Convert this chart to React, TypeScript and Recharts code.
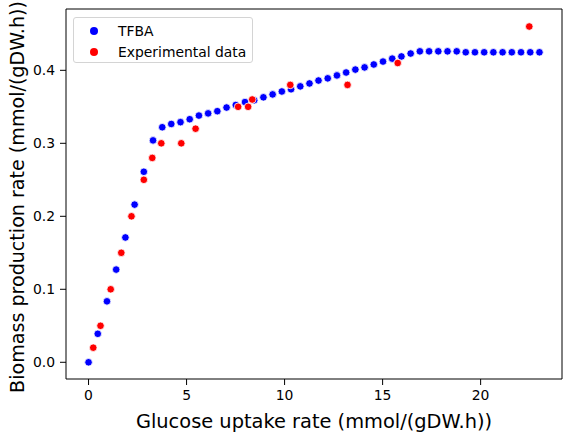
import React from "react";
import { ScatterChart, Scatter, XAxis, YAxis, ReferenceArea } from "recharts";

const tfbaY = [
  0, 0.039, 0.0835, 0.127, 0.171, 0.216, 0.261, 0.304, 0.322, 0.3265,
  0.329, 0.333, 0.338, 0.341, 0.344, 0.349, 0.3525, 0.3565, 0.359, 0.363,
  0.367, 0.371, 0.374, 0.378, 0.382, 0.386, 0.389, 0.393, 0.397, 0.401,
  0.404, 0.408, 0.412, 0.416, 0.419, 0.423, 0.426, 0.426, 0.426, 0.426,
  0.426, 0.4247, 0.4247, 0.4247, 0.4247, 0.4247, 0.4247, 0.4247, 0.4247, 0.4247,
];
const tfbaX = [
  0, 0.47, 0.94, 1.41, 1.88, 2.35, 2.82, 3.29, 3.76, 4.22,
  4.69, 5.16, 5.63, 6.1, 6.57, 7.04, 7.51, 7.98, 8.45, 8.92,
  9.39, 9.86, 10.33, 10.8, 11.27, 11.73, 12.2, 12.67, 13.14, 13.61,
  14.08, 14.55, 15.02, 15.49, 15.96, 16.43, 16.9, 17.37, 17.84, 18.31,
  18.78, 19.24, 19.71, 20.18, 20.65, 21.12, 21.59, 22.06, 22.53, 23,
];
const expX = [0.24, 0.61, 1.13, 1.67, 2.19, 2.82, 3.25, 3.71, 4.73, 5.46, 7.63, 8.14, 8.35, 10.29, 13.21, 15.77, 22.48];
const expY = [0.02, 0.05, 0.1, 0.15, 0.2, 0.25, 0.28, 0.3, 0.3, 0.32, 0.35, 0.35, 0.36, 0.38, 0.38, 0.41, 0.46];
const xTicks = [0, 5, 10, 15, 20];
const yTicks = [0, 0.1, 0.2, 0.3, 0.4];
const seriesNames = ["TFBA", "Experimental data"];
const seriesColors = ["blue", "red"];
const xLabel = "Glucose uptake rate (mmol/(gDW.h))";
const yLabel = "Biomass production rate (mmol/(gDW.h))";

const tfbaData = tfbaX.map((x, i) => ({ x, y: tfbaY[i] }));
const expData = expX.map((x, i) => ({ x, y: expY[i] }));

const FONT = "DejaVu Sans";
const X_DOMAIN = [-1.15, 24.15];
const Y_DOMAIN = [-0.0229, 0.484];

const dot = (color: string) => (props: any) => (
  <circle cx={props.cx} cy={props.cy} r={3.8} fill={color} stroke="#ffffff" strokeWidth={0.8} />
);

const LegendBox = () => (
  <div
    style={{
      position: "absolute",
      left: 73,
      top: 17,
      width: 180,
      height: 46,
      border: "1px solid #d4d4d4",
      borderRadius: 3,
      background: "rgba(255,255,255,0.8)",
      fontFamily: FONT,
      fontSize: 13.9,
      boxSizing: "border-box",
    }}
  >
    {seriesNames.map((t, i) => {
      const cy = i === 0 ? 13 : 34;
      return (
        <div key={t}>
          <div
            style={{
              position: "absolute",
              left: 15.5,
              top: cy - 4,
              width: 8,
              height: 8,
              borderRadius: 4,
              background: seriesColors[i],
            }}
          />
          <div
            style={{
              position: "absolute",
              left: 44,
              top: cy - 9,
              lineHeight: "18px",
              color: "#000",
              whiteSpace: "nowrap",
            }}
          >
            {t}
          </div>
        </div>
      );
    })}
  </div>
);

export default function App() {
  return (
    <div style={{ position: "absolute", left: 0, top: 0, width: 572, height: 437, background: "#fff" }}>
      <ScatterChart width={572} height={437} margin={{ top: 9, right: 10, bottom: 0, left: 0 }}>
        <XAxis
          type="number"
          dataKey="x"
          domain={X_DOMAIN}
          ticks={xTicks}
          allowDataOverflow
          height={58}
          tickSize={6}
          tickMargin={5}
          axisLine={false}
          tickLine={{ stroke: "#000", strokeWidth: 1 }}
          tick={{ fill: "#000", fontSize: 13.9, fontFamily: FONT }}
          label={{
            content: () => (
              <text x={314} y={428} textAnchor="middle" fontFamily={FONT} fontSize={19.4} fill="#000">
                {xLabel}
              </text>
            ),
          }}
        />
        <YAxis
          type="number"
          dataKey="y"
          domain={Y_DOMAIN}
          ticks={yTicks}
          allowDataOverflow
          width={66}
          tickSize={6}
          tickMargin={5}
          axisLine={false}
          tickFormatter={(v: number) => v.toFixed(1)}
          tickLine={{ stroke: "#000", strokeWidth: 1 }}
          tick={{ fill: "#000", fontSize: 13.9, fontFamily: FONT }}
          label={{
            content: () => (
              <text
                x={23.5}
                y={197}
                transform="rotate(-90 23.5 197)"
                textAnchor="middle"
                fontFamily={FONT}
                fontSize={19.1}
                fill="#000"
              >
                {yLabel}
              </text>
            ),
          }}
        />
        <ReferenceArea
          x1={X_DOMAIN[0]}
          x2={X_DOMAIN[1]}
          y1={Y_DOMAIN[0]}
          y2={Y_DOMAIN[1]}
          fill="none"
          stroke="#000"
          strokeWidth={1}
          fillOpacity={0}
        />
        <Scatter name={seriesNames[0]} data={tfbaData} fill={seriesColors[0]} shape={dot(seriesColors[0])} isAnimationActive={false} />
        <Scatter name={seriesNames[1]} data={expData} fill={seriesColors[1]} shape={dot(seriesColors[1])} isAnimationActive={false} />
      </ScatterChart>
      <LegendBox />
    </div>
  );
}
